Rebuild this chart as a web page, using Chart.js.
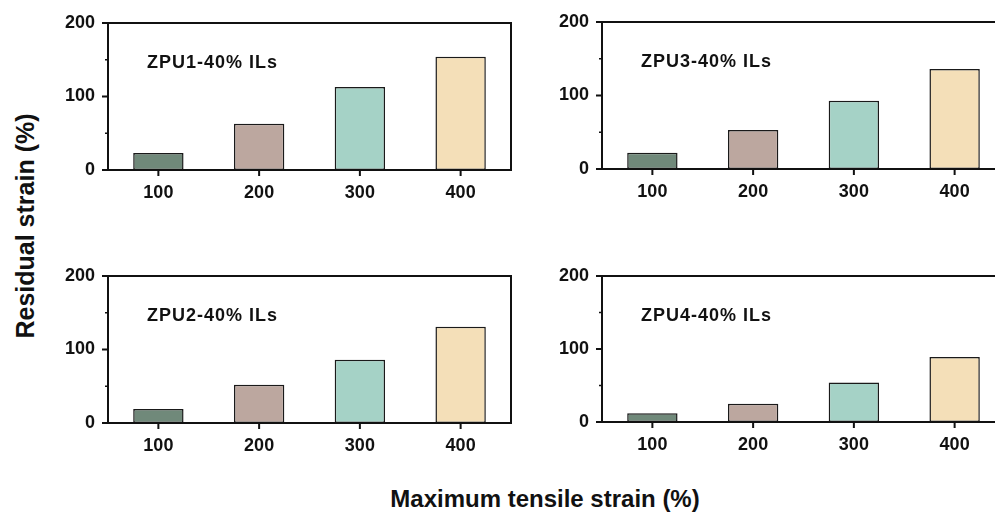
<!DOCTYPE html>
<html lang="en">
  <head>
    <meta charset="UTF-8" />
    <title>Residual strain vs maximum tensile strain</title>
    <script src="https://cdn.jsdelivr.net/npm/chart.js"></script>
    <style>
      body {
        margin: 0;
        width: 995px;
        height: 515px;
        position: relative;
        overflow: hidden;
        background: #fff;
        font-family: "Liberation Sans", Arial, sans-serif;
      }
      canvas {
        position: absolute;
      }
      .title {
        position: absolute;
        font-weight: bold;
        color: #111;
        white-space: nowrap;
      }
    </style>
  </head>
  <body>
    <canvas id="zpu1"></canvas>
    <canvas id="zpu3"></canvas>
    <canvas id="zpu2"></canvas>
    <canvas id="zpu4"></canvas>

    <div class="title" id="yTitle">Residual strain (%)</div>
    <div class="title" id="xTitle">Maximum tensile strain (%)</div>

    <script>
      // data
      const strainLabels = ["100", "200", "300", "400"];
      const zpu1Values = [23, 63, 113, 154];
      const zpu2Values = [19, 52, 86, 131];
      const zpu3Values = [22, 53, 93, 136];
      const zpu4Values = [12, 25, 54, 89];
      const yMajorTicks = [0, 100, 200];
      const yMinorTicks = [50, 150];
      const barColors = ["#70897a", "#bca79f", "#a5d2c6", "#f4dfb8"];

      const PAD_LEFT = 60, PAD_TOP = 15, PAD_RIGHT = 10, PAD_BOTTOM = 40;

      // frame, tick marks and panel name
      const framePlugin = {
        id: "frame",
        afterDraw(chart, args, opts) {
          const { ctx, chartArea, scales } = chart;
          ctx.save();
          ctx.strokeStyle = "#111";
          ctx.lineWidth = 2;
          ctx.strokeRect(chartArea.left, chartArea.top,
            chartArea.right - chartArea.left, chartArea.bottom - chartArea.top);

          ctx.beginPath();
          strainLabels.forEach((l, i) => {
            const x = scales.x.getPixelForValue(i);
            ctx.moveTo(x, chartArea.bottom);
            ctx.lineTo(x, chartArea.bottom + 6);
          });
          yMajorTicks.forEach((v) => {
            const y = scales.y.getPixelForValue(v);
            ctx.moveTo(chartArea.left, y);
            ctx.lineTo(chartArea.left - 6, y);
          });
          ctx.stroke();

          ctx.lineWidth = 1.5;
          ctx.beginPath();
          yMinorTicks.forEach((v) => {
            const y = scales.y.getPixelForValue(v);
            ctx.moveTo(chartArea.left, y);
            ctx.lineTo(chartArea.left - 3, y);
          });
          ctx.stroke();

          ctx.fillStyle = "#111";
          ctx.font = "bold 18px 'Liberation Sans', Arial, sans-serif";
          ctx.letterSpacing = "1px";
          ctx.textBaseline = "middle";
          ctx.fillText(opts.text, chartArea.left + 39, chartArea.top + 40);
          ctx.restore();
        },
      };

      function makePanel(id, values, name, box) {
        const canvas = document.getElementById(id);
        const w = box.right - box.left + PAD_LEFT + PAD_RIGHT;
        const h = box.bottom - box.top + PAD_TOP + PAD_BOTTOM;
        canvas.width = w;
        canvas.height = h;
        canvas.style.left = box.left - PAD_LEFT + "px";
        canvas.style.top = box.top - PAD_TOP + "px";
        canvas.style.width = w + "px";
        canvas.style.height = h + "px";

        return new Chart(canvas.getContext("2d"), {
          type: "bar",
          data: {
            labels: strainLabels,
            datasets: [
              {
                data: values,
                backgroundColor: barColors,
                borderColor: "#1a1a1a",
                borderWidth: 1.5,
                borderSkipped: false,
                barPercentage: 0.5,
                categoryPercentage: 1,
              },
            ],
          },
          options: {
            responsive: false,
            animation: false,
            devicePixelRatio: 1,
            layout: {
              padding: { top: PAD_TOP, right: PAD_RIGHT, left: 0, bottom: 0 },
            },
            plugins: {
              legend: { display: false },
              tooltip: { enabled: false },
              frame: { text: name },
            },
            scales: {
              x: {
                offset: true,
                grid: { display: false, drawTicks: false },
                border: { display: false },
                ticks: {
                  color: "#111",
                  padding: 12,
                  maxRotation: 0,
                  font: { family: "'Liberation Sans', Arial, sans-serif", size: 18, weight: "bold" },
                },
                afterFit(scale) {
                  scale.height = PAD_BOTTOM;
                  scale.paddingLeft = 0;
                  scale.paddingRight = 0;
                },
              },
              y: {
                min: 0,
                max: 200,
                grid: { display: false, drawTicks: false },
                border: { display: false },
                ticks: {
                  stepSize: 100,
                  color: "#111",
                  padding: 13,
                  font: { family: "'Liberation Sans', Arial, sans-serif", size: 18, weight: "bold" },
                },
                afterFit(scale) {
                  scale.width = PAD_LEFT;
                  scale.paddingTop = 0;
                  scale.paddingBottom = 0;
                },
              },
            },
          },
          plugins: [framePlugin],
        });
      }

      makePanel("zpu1", zpu1Values, "ZPU1-40% ILs", { left: 108, top: 23, right: 511, bottom: 170 });
      makePanel("zpu3", zpu3Values, "ZPU3-40% ILs", { left: 602, top: 22, right: 1005, bottom: 169 });
      makePanel("zpu2", zpu2Values, "ZPU2-40% ILs", { left: 108, top: 276, right: 511, bottom: 423 });
      makePanel("zpu4", zpu4Values, "ZPU4-40% ILs", { left: 602, top: 276, right: 1005, bottom: 422 });

      // shared axis titles
      const yTitle = document.getElementById("yTitle");
      yTitle.style.fontSize = "25px";
      yTitle.style.left = "25px";
      yTitle.style.top = "226px";
      yTitle.style.transform = "translate(-50%, -50%) rotate(-90deg)";

      const xTitle = document.getElementById("xTitle");
      xTitle.style.fontSize = "24px";
      xTitle.style.left = "545px";
      xTitle.style.top = "499px";
      xTitle.style.transform = "translate(-50%, -50%)";
    </script>
  </body>
</html>
